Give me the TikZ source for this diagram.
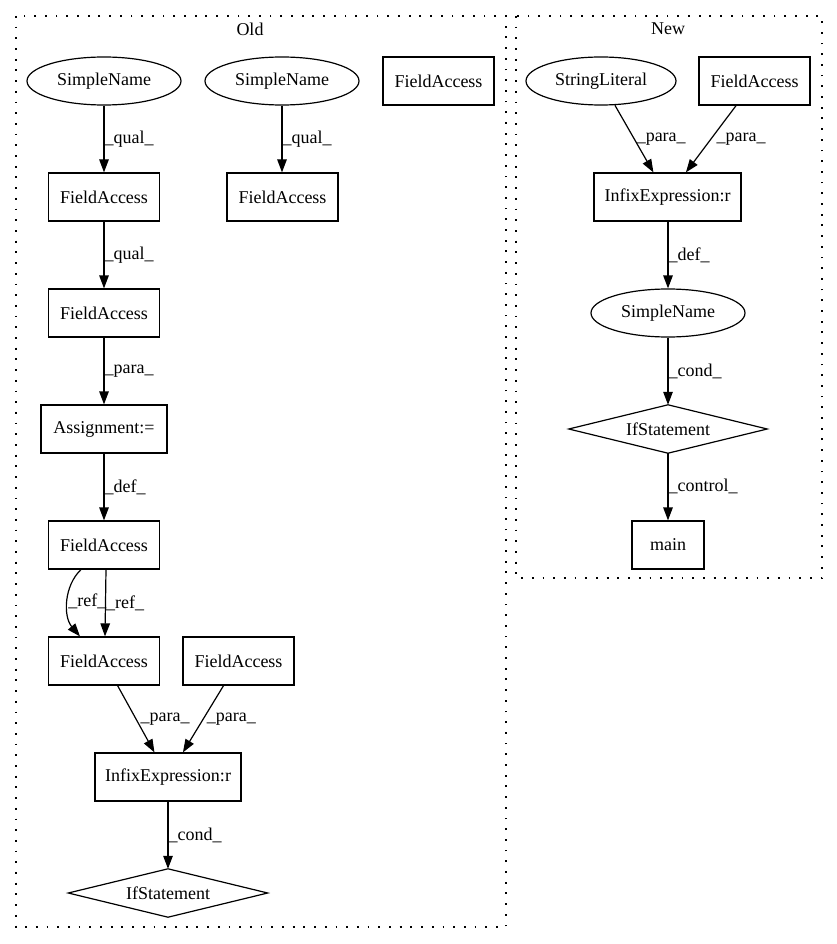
\documentclass[tikz,border=0pt]{standalone}
\usepackage{fontspec}
\setmainfont{Liberation Serif}
\usetikzlibrary{shapes.geometric,arrows.meta}
\begin{document}
\begin{tikzpicture}[x=1pt,y=-1pt,
  every node/.style={font=\fontsize{18}{20}\selectfont},
  box/.style={draw, line width=1.2pt, rectangle, minimum height=48pt, inner sep=0pt},
  oval/.style={draw, line width=1.2pt, ellipse, minimum width=154pt, minimum height=48pt, inner sep=0pt},
  diabox/.style={rectangle, minimum width=199pt, minimum height=48pt, inner sep=0pt},
  conn/.style={-{Triangle[length=13pt,width=9.5pt]}, line width=1.2pt},
  lbl/.style={anchor=west, inner sep=0pt},
  cluster/.style={line width=1.6pt, dash pattern=on 1.8pt off 8.9pt}]
\useasboundingbox (0,0) rectangle (837,944);
% clusters
\draw[cluster] (16,16) rectangle (506,927);
\draw[cluster] (516,16) rectangle (822,578);
\node (oldt) at (250,29) {Old};
\node (newt) at (668,29) {New};
% Old nodes
\node[oval] (sn1) at (104,81) {SimpleName};
\node[oval] (sn2) at (282,81) {SimpleName};
\node[box, minimum width=111pt] (fa0) at (438.5,81) {FieldAccess};
\node[box, minimum width=111pt] (fa1) at (104,197) {FieldAccess};
\node[box, minimum width=111pt] (fa2) at (282.5,197) {FieldAccess};
\node[box, minimum width=111pt] (fa3) at (104,313) {FieldAccess};
\node[box, minimum width=126pt] (asg) at (104,429) {Assignment:=};
\node[box, minimum width=111pt] (fa4) at (104,545) {FieldAccess};
\node[box, minimum width=111pt] (fa5) at (104,661) {FieldAccess};
\node[box, minimum width=111pt] (fa6) at (238.5,661) {FieldAccess};
\node[box, minimum width=146pt] (inf) at (168,777) {InfixExpression:r};
\node[diabox] (ifs) at (168,893) {IfStatement};
\draw[line width=1.2pt] (ifs.north) -- (ifs.east) -- (ifs.south) -- (ifs.west) -- cycle;
% New nodes
\node[oval, minimum width=150pt] (sl) at (601,81) {StringLiteral};
\node[box, minimum width=111pt] (fa7) at (754.5,81) {FieldAccess};
\node[box, minimum width=147pt] (inf2) at (667.5,197) {InfixExpression:r};
\node[oval] (sn3) at (668,313) {SimpleName};
\node[diabox, minimum width=198pt] (ifs2) at (668,429) {IfStatement};
\draw[line width=1.2pt] (ifs2.north) -- (ifs2.east) -- (ifs2.south) -- (ifs2.west) -- cycle;
\node[box, minimum width=72pt] (mainn) at (668,545) {main};
% Old edges
\draw[conn] (sn1) -- (fa1) node[lbl, midway] {\_qual\_};
\draw[conn] (sn2) -- (sn2 |- fa2.north) node[lbl, midway] {\_qual\_};
\draw[conn] (fa1) -- (fa3) node[lbl, midway] {\_qual\_};
\draw[conn] (fa3) -- (asg) node[lbl, midway] {\_para\_};
\draw[conn] (asg) -- (fa4) node[lbl, midway] {\_def\_};
\draw[conn] ([xshift=-23pt]fa4.south) .. controls +(-17,16) and +(-17,-20) .. ([xshift=-24pt]fa5.north) node[lbl, midway] {\_ref\_};
\draw[conn] ([xshift=2pt]fa4.south) -- ([xshift=1pt]fa5.north) node[lbl, midway] {\_ref\_};
\draw[conn] (fa5) -- (inf) node[lbl, midway, xshift=4pt] {\_para\_};
\draw[conn] (fa6) -- (inf) node[lbl, midway, xshift=3pt] {\_para\_};
\draw[conn] (inf) -- (ifs.north) node[lbl, midway] {\_cond\_};
% New edges
\draw[conn] (sl) -- (inf2) node[lbl, midway, xshift=2pt] {\_para\_};
\draw[conn] (fa7) -- (inf2) node[lbl, midway, xshift=5pt] {\_para\_};
\draw[conn] (inf2.south -| sn3) -- (sn3) node[lbl, midway] {\_def\_};
\draw[conn] (sn3) -- (ifs2.north) node[lbl, midway] {\_cond\_};
\draw[conn] (ifs2.south) -- (mainn) node[lbl, midway] {\_control\_};
\end{tikzpicture}
\end{document}
